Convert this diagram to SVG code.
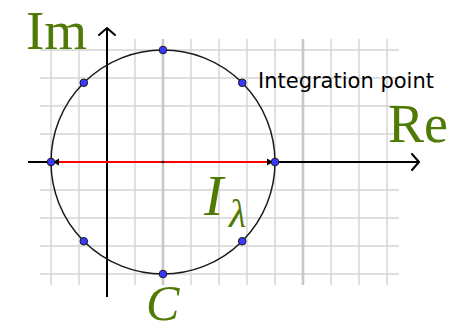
<svg xmlns="http://www.w3.org/2000/svg" width="449" height="331" viewBox="0 0 449 331">
<style>
.g{stroke:#d4d4d4;stroke-width:1.4;fill:none}
.gt{stroke:#c8c8c8;stroke-width:2.6;fill:none}
.ax{stroke:#000;stroke-width:2;fill:none}
.pt{fill:#3a3aff;stroke:#1a1a1a;stroke-width:1}
.lbl{font-family:"Liberation Serif","Times New Roman",serif;fill:#4f7a05}
</style>
<defs>
<marker id="arr" viewBox="-9 -9 18 18" markerWidth="18" markerHeight="18" refX="0" refY="0" orient="auto" markerUnits="userSpaceOnUse">
<path d="M-7,-8 L0,0 L-7,8" fill="none" stroke="#000" stroke-width="2" stroke-linecap="round" stroke-linejoin="round"/>
</marker>
</defs>
<g id="grid">
<path class="g" d="M40,50H399M40,78H399M40,106H399M40,134H399M40,190H399M40,218H399M40,246H399M40,274H399"/>
<path class="g" d="M51,39V285M79,39V285M135,39V285M191,39V285M219,39V285M247,39V285M275,39V285M331,39V285M359,39V285M387,39V285"/>
<path class="gt" d="M163,39V285M303,39V285"/>
</g>
<g id="connectors">
<line class="ax" x1="28" y1="162" x2="419" y2="162" marker-end="url(#arr)"/>
<line class="ax" x1="107" y1="297" x2="107" y2="28" marker-end="url(#arr)"/>
</g>
<g id="contour">
<circle cx="163" cy="162" r="112" fill="none" stroke="#1a1a1a" stroke-width="1.5"/>
</g>
<g id="interval">
<line x1="56" y1="162" x2="270" y2="162" stroke="#ff0000" stroke-width="2"/>
<path d="M53,162 L59,158.5 L59,165.5 Z" fill="#000"/>
<path d="M273,162 L267,158.5 L267,165.5 Z" fill="#000"/>
<circle cx="163" cy="162" r="1.3" fill="#000"/>
</g>
<g id="points">
<circle class="pt" cx="275" cy="162" r="3.8"/>
<circle class="pt" cx="242.2" cy="82.8" r="3.8"/>
<circle class="pt" cx="163" cy="50" r="3.8"/>
<circle class="pt" cx="83.8" cy="82.8" r="3.8"/>
<circle class="pt" cx="51" cy="162" r="3.8"/>
<circle class="pt" cx="83.8" cy="241.2" r="3.8"/>
<circle class="pt" cx="163" cy="274" r="3.8"/>
<circle class="pt" cx="242.2" cy="241.2" r="3.8"/>
</g>
<g id="labels">
<text class="lbl" x="26" y="49" font-size="55">Im</text>
<text class="lbl" x="388" y="142" font-size="54">Re</text>
<text class="lbl" x="204" y="215" font-size="58" font-style="italic">I</text>
<text class="lbl" x="229" y="227" font-size="40" font-style="italic">λ</text>
<text class="lbl" x="146" y="320" font-size="50" font-style="italic">C</text>
<text x="258" y="88" font-size="21" font-family="DejaVu Sans, sans-serif" fill="#000">Integration point</text>
</g>
</svg>
